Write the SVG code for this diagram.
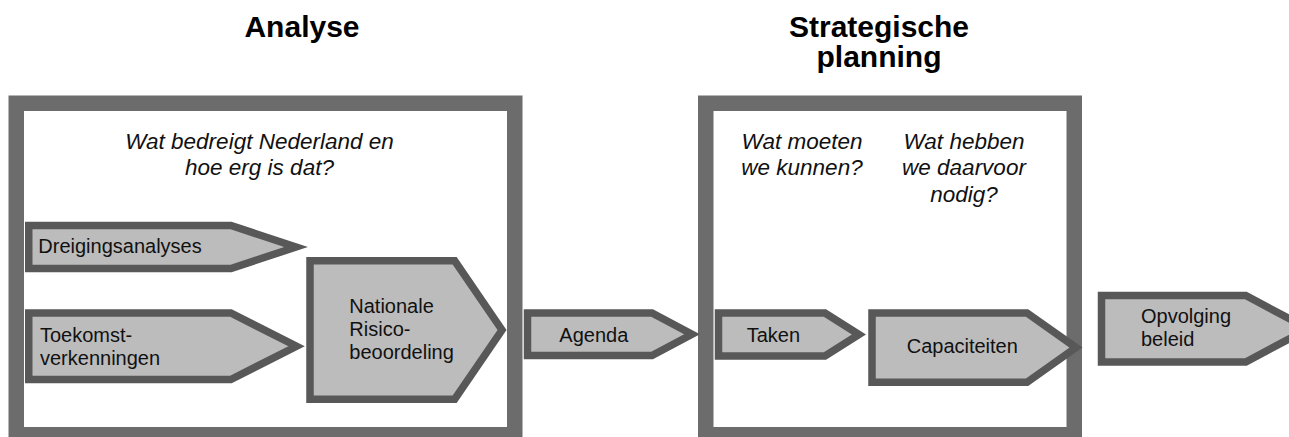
<svg xmlns="http://www.w3.org/2000/svg" width="1289" height="437" viewBox="0 0 1289 437">
<style>
.frame{fill:#ffffff;stroke:#6c6c6c;stroke-width:15.5}
.arrow{fill:#bcbcbc;stroke:#585858;stroke-width:7.5;stroke-linejoin:miter;stroke-miterlimit:10}
.lbl{font-family:"Liberation Sans",Arial,sans-serif;font-size:20px;fill:#111111}
.q{font-family:"Liberation Sans",Arial,sans-serif;font-size:22.5px;font-style:italic;fill:#111111;text-anchor:middle}
.title{font-family:"Liberation Sans",Arial,sans-serif;font-size:30px;font-weight:bold;fill:#000000;text-anchor:middle}
</style>
<rect width="1289" height="437" fill="#ffffff"/>

<g id="analyse">
  <rect class="frame" x="16.25" y="103.25" width="498.5" height="331.5"/>
  <text class="title" x="302" y="36.7">Analyse</text>
  <text class="q" x="259.5" y="148.5">Wat bedreigt Nederland en</text>
  <text class="q" x="259.5" y="175">hoe erg is dat?</text>
</g>

<g id="strategische-planning">
  <rect class="frame" x="705.75" y="103.25" width="368.5" height="331.5"/>
  <text class="title" x="879" y="37.3">Strategische</text>
  <text class="title" x="879" y="66.7">planning</text>
  <text class="q" x="802" y="148.5">Wat moeten</text>
  <text class="q" x="802" y="175">we kunnen?</text>
  <text class="q" x="964" y="148.5">Wat hebben</text>
  <text class="q" x="964" y="175">we daarvoor</text>
  <text class="q" x="964" y="201.5">nodig?</text>
</g>

<g id="dreigingsanalyses">
  <polygon class="arrow" points="28.75,225.5 231,225.5 296,247 231,268.5 28.75,268.5"/>
  <text class="lbl" x="38.3" y="253.3">Dreigingsanalyses</text>
</g>

<g id="toekomstverkenningen">
  <polygon class="arrow" points="28.75,313 230.8,313 296.5,346.25 230.8,379.5 28.75,379.5"/>
  <text class="lbl" x="40" y="341.7">Toekomst-</text>
  <text class="lbl" x="40" y="365">verkenningen</text>
</g>

<g id="nationale-risicobeoordeling">
  <polygon class="arrow" points="310,260.8 454.7,260.8 502,330 454.7,399.2 310,399.2"/>
  <text class="lbl" x="349.3" y="312.7">Nationale</text>
  <text class="lbl" x="349.3" y="336">Risico-</text>
  <text class="lbl" x="349.3" y="359.3">beoordeling</text>
</g>

<g id="agenda">
  <polygon class="arrow" points="527.5,313 652,313 692,334.25 652,355.5 527.5,355.5"/>
  <text class="lbl" x="559.3" y="341.7">Agenda</text>
</g>

<g id="taken">
  <polygon class="arrow" points="718.5,313 825,313 859,334.5 825,356 718.5,356"/>
  <text class="lbl" x="746.7" y="341.7">Taken</text>
</g>

<g id="capaciteiten">
  <polygon class="arrow" points="872,313 1027,313 1076,347.6 1027,382.2 872,382.2"/>
  <text class="lbl" x="906.7" y="353.3">Capaciteiten</text>
</g>

<g id="opvolging-beleid">
  <polygon class="arrow" points="1101.5,295.5 1245.8,295.5 1308,328.75 1245.8,362 1101.5,362"/>
  <text class="lbl" x="1141" y="323.3">Opvolging</text>
  <text class="lbl" x="1141" y="346">beleid</text>
</g>

<g id="connectors"></g>
</svg>
